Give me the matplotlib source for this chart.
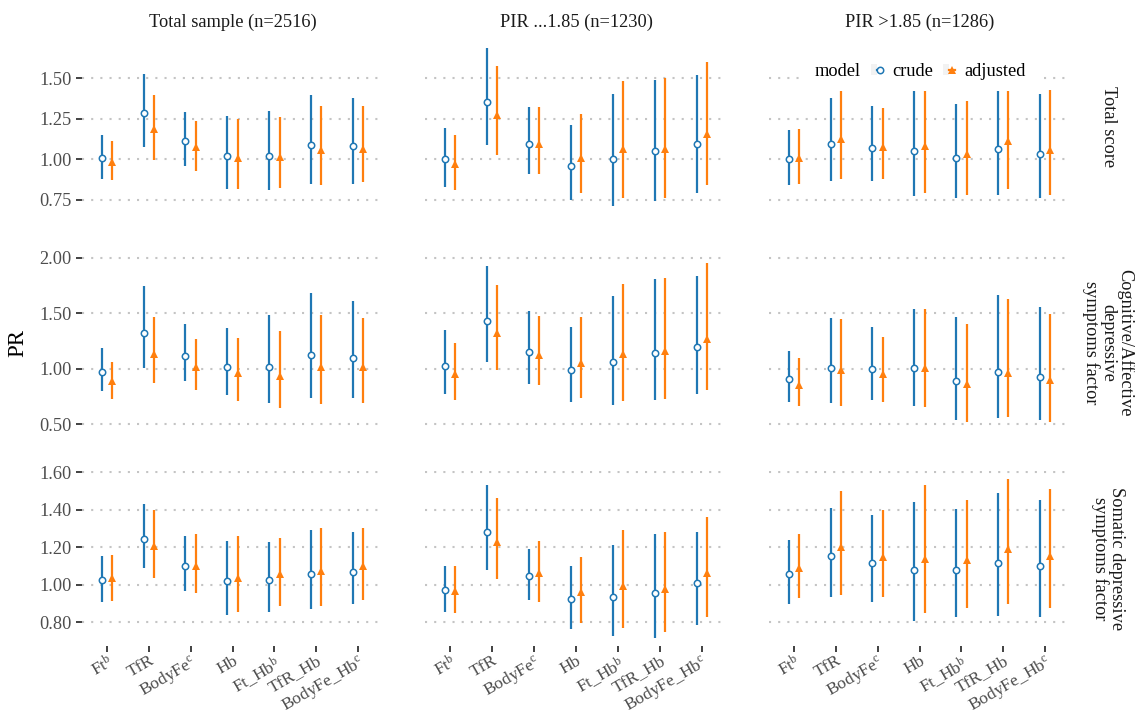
import matplotlib.pyplot as plt
from matplotlib.lines import Line2D
from matplotlib.patches import Patch, Rectangle
from matplotlib.legend_handler import HandlerTuple

# ---- data ----
markers = [r"Ft$^{\mathrm{b}}$", "TfR", r"BodyFe$^{\mathrm{c}}$", "Hb",
           r"Ft_Hb$^{\mathrm{b}}$", "TfR_Hb", r"BodyFe_Hb$^{\mathrm{c}}$"]
groups = ["Total sample (n=2516)", "PIR ...1.85 (n=1230)", "PIR >1.85 (n=1286)"]
outcomes = ["Total score",
            "Cognitive/Affective\ndepressive\nsymptoms factor",
            "Somatic depressive\nsymptoms factor"]

# each list: one row of 7 values per group (total, PIR low, PIR high)
total_crude_est = [[1.006, 1.284, 1.110, 1.020, 1.020, 1.089, 1.085],
                   [1.000, 1.356, 1.095, 0.957, 1.000, 1.048, 1.097],
                   [1.000, 1.095, 1.072, 1.050, 1.006, 1.062, 1.031]]
total_crude_lo = [[0.876, 1.075, 0.957, 0.816, 0.810, 0.847, 0.847],
                  [0.828, 1.089, 0.907, 0.745, 0.710, 0.739, 0.789],
                  [0.839, 0.863, 0.863, 0.770, 0.758, 0.776, 0.758]]
total_crude_hi = [[1.149, 1.528, 1.290, 1.267, 1.298, 1.398, 1.379],
                  [1.193, 1.689, 1.323, 1.211, 1.404, 1.490, 1.522],
                  [1.180, 1.379, 1.329, 1.480, 1.342, 1.470, 1.404]]
total_adj_est = [[0.980, 1.185, 1.075, 1.010, 1.015, 1.056, 1.066],
                 [0.969, 1.275, 1.097, 1.010, 1.064, 1.066, 1.159],
                 [1.010, 1.128, 1.077, 1.085, 1.031, 1.110, 1.056]]
total_adj_lo = [[0.870, 0.995, 0.925, 0.816, 0.822, 0.840, 0.859],
                [0.807, 1.027, 0.907, 0.789, 0.758, 0.758, 0.839],
                [0.845, 0.878, 0.878, 0.789, 0.776, 0.814, 0.776]]
total_adj_hi = [[1.110, 1.400, 1.236, 1.248, 1.260, 1.330, 1.330],
                [1.149, 1.578, 1.323, 1.280, 1.484, 1.503, 1.602],
                [1.186, 1.450, 1.317, 1.500, 1.360, 1.520, 1.430]]

cog_crude_est = [[0.973, 1.324, 1.117, 1.018, 1.012, 1.120, 1.096],
                 [1.021, 1.434, 1.148, 0.985, 1.060, 1.145, 1.193],
                 [0.904, 1.006, 1.000, 1.009, 0.889, 0.973, 0.922]]
cog_crude_lo = [[0.802, 1.009, 0.892, 0.766, 0.691, 0.739, 0.739],
                [0.774, 1.063, 0.864, 0.702, 0.675, 0.720, 0.774],
                [0.702, 0.693, 0.720, 0.667, 0.538, 0.559, 0.538]]
cog_crude_hi = [[1.186, 1.745, 1.402, 1.366, 1.483, 1.682, 1.610],
                [1.352, 1.922, 1.524, 1.380, 1.660, 1.813, 1.840],
                [1.163, 1.461, 1.380, 1.539, 1.470, 1.669, 1.560]]
cog_adj_est = [[0.886, 1.132, 1.015, 0.958, 0.937, 1.012, 1.012],
               [0.952, 1.322, 1.127, 1.051, 1.136, 1.160, 1.265],
               [0.855, 0.985, 0.952, 1.006, 0.862, 0.964, 0.898]]
cog_adj_lo = [[0.730, 0.874, 0.808, 0.712, 0.649, 0.685, 0.694],
              [0.720, 0.985, 0.855, 0.738, 0.711, 0.729, 0.810],
              [0.669, 0.669, 0.702, 0.658, 0.520, 0.568, 0.520]]
cog_adj_hi = [[1.060, 1.465, 1.267, 1.276, 1.342, 1.483, 1.456],
              [1.235, 1.759, 1.479, 1.470, 1.768, 1.822, 1.949],
              [1.100, 1.452, 1.289, 1.539, 1.407, 1.633, 1.497]]

som_crude_est = [[1.025, 1.245, 1.101, 1.018, 1.027, 1.059, 1.069],
                 [0.972, 1.282, 1.046, 0.924, 0.936, 0.957, 1.007],
                 [1.059, 1.151, 1.117, 1.076, 1.080, 1.115, 1.099]]
som_crude_lo = [[0.908, 1.091, 0.966, 0.840, 0.854, 0.870, 0.897],
                [0.854, 1.078, 0.918, 0.764, 0.726, 0.716, 0.785],
                [0.897, 0.934, 0.908, 0.806, 0.828, 0.833, 0.828]]
som_crude_hi = [[1.153, 1.430, 1.259, 1.233, 1.227, 1.291, 1.279],
                [1.099, 1.531, 1.190, 1.099, 1.211, 1.270, 1.281],
                [1.238, 1.409, 1.371, 1.440, 1.403, 1.488, 1.451]]
som_adj_est = [[1.036, 1.204, 1.101, 1.036, 1.057, 1.073, 1.099],
               [0.966, 1.227, 1.062, 0.961, 0.995, 0.977, 1.062],
               [1.087, 1.199, 1.147, 1.137, 1.131, 1.190, 1.153]]
som_adj_lo = [[0.913, 1.037, 0.956, 0.854, 0.886, 0.886, 0.918],
              [0.849, 1.030, 0.908, 0.796, 0.769, 0.748, 0.828],
              [0.929, 0.945, 0.934, 0.849, 0.876, 0.897, 0.876]]
som_adj_hi = [[1.158, 1.398, 1.270, 1.259, 1.249, 1.302, 1.302],
              [1.099, 1.462, 1.233, 1.147, 1.291, 1.281, 1.361],
              [1.270, 1.499, 1.398, 1.531, 1.451, 1.563, 1.510]]

y_ticks = [[0.75, 1.00, 1.25, 1.50],
           [0.50, 1.00, 1.50, 2.00],
           [0.80, 1.00, 1.20, 1.40, 1.60]]

# ---- style ----
plt.rcParams["font.family"] = ["Liberation Serif", "DejaVu Serif"]
plt.rcParams["mathtext.fontset"] = "custom"
plt.rcParams["mathtext.rm"] = "Liberation Serif"
plt.rcParams["mathtext.it"] = "Liberation Serif:italic"

BLUE = "#1F77B4"
ORANGE = "#FF7F0E"
W, H = 1135, 710
FS = 13.2

rows = [
    (total_crude_est, total_crude_lo, total_crude_hi, total_adj_est, total_adj_lo, total_adj_hi),
    (cog_crude_est, cog_crude_lo, cog_crude_hi, cog_adj_est, cog_adj_lo, cog_adj_hi),
    (som_crude_est, som_crude_lo, som_crude_hi, som_adj_est, som_adj_lo, som_adj_hi),
]

# panel boxes in pixels
cols_x = [(82, 383), (425, 727), (769, 1070)]
rows_y = [(40, 214), (255.5, 430), (471, 646)]

fig = plt.figure(figsize=(W / 100, H / 100), dpi=100)
x = list(range(len(markers)))
dodge = 0.127

for r, (c_est, c_lo, c_hi, a_est, a_lo, a_hi) in enumerate(rows):
    lo_all = min(min(v) for v in c_lo + a_lo)
    hi_all = max(max(v) for v in c_hi + a_hi)
    pad = 0.05 * (hi_all - lo_all)
    y0, y1 = rows_y[r]
    for g in range(3):
        x0, x1 = cols_x[g]
        ax = fig.add_axes([x0 / W, 1 - y1 / H, (x1 - x0) / W, (y1 - y0) / H])
        xc = [v - dodge for v in x]
        xa = [v + dodge for v in x]
        ax.vlines(xc, c_lo[g], c_hi[g], color=BLUE, lw=1.6, zorder=3)
        ax.plot(xc, c_est[g], ls="none", marker="o", ms=4.6, mfc="white",
                mec=BLUE, mew=1.1, zorder=4)
        ax.vlines(xa, a_lo[g], a_hi[g], color=ORANGE, lw=1.6, zorder=3)
        ax.plot(xa, a_est[g], ls="none", marker="^", ms=6.2, color=ORANGE,
                mew=0, zorder=4)

        ax.set_xlim(-0.6, len(markers) - 0.4)
        ax.set_ylim(lo_all - pad, hi_all + pad)
        ax.set_yticks(y_ticks[r])
        ax.set_xticks(x)
        ax.grid(axis="y", color="#C4C4C4", lw=1.5, ls=(0, (1, 3.4)))
        ax.set_axisbelow(True)
        for s in ax.spines.values():
            s.set_visible(False)
        ax.tick_params(length=4, width=1.3, color="#333333",
                       labelsize=FS, labelcolor="#4D4D4D", pad=3.5)
        if g == 0:
            ax.set_yticklabels([f"{t:.2f}" for t in y_ticks[r]])
        else:
            ax.tick_params(axis="y", left=False, labelleft=False)
        if r == 2:
            ax.set_xticklabels(markers, rotation=30, ha="right", va="top",
                               rotation_mode="anchor", fontsize=12.6)
            ax.tick_params(axis="x", pad=0.8)
        else:
            ax.tick_params(axis="x", bottom=False, labelbottom=False)

        if r == 0:
            fig.text((x0 + x1) / 2 / W, 1 - 22 / H, groups[g], ha="center",
                     va="center", fontsize=FS, color="#1A1A1A")
    fig.text(1108 / W, 1 - (y0 + y1) / 2 / H, outcomes[r], rotation=-90,
             ha="center", va="center", multialignment="center",
             fontsize=FS, color="#1A1A1A", linespacing=0.95)

fig.text(18 / W, 1 - 343 / H, "PR", rotation=90, ha="center", va="center",
         fontsize=16.5, color="black")

# legend (white box drawn over the top right panel, as in the reference)
fig.patches.append(Rectangle((800 / W, 1 - 91 / H), 242 / W, 41 / H,
                             transform=fig.transFigure, facecolor="white",
                             edgecolor="none", zorder=4))
fig.text(815 / W, 1 - 71.5 / H, "model", ha="left", va="center",
         fontsize=FS, zorder=6)
key_bg = "#F2F2F2"
handles = [
    (Patch(facecolor=key_bg, edgecolor="none"),
     Line2D([], [], color=BLUE, lw=1.6, marker="o", ms=4.6, mfc="white",
            mec=BLUE, mew=1.1)),
    (Patch(facecolor=key_bg, edgecolor="none"),
     Line2D([], [], color=ORANGE, lw=1.6, marker="^", ms=6.2, mew=0)),
]
leg = fig.legend(handles, ["crude", "adjusted"], ncol=2, frameon=False,
                 loc="center left", bbox_to_anchor=(871 / W, 1 - 71.5 / H),
                 borderpad=0, borderaxespad=0, fontsize=FS, numpoints=1,
                 handlelength=0.62, handleheight=0.62, handletextpad=0.55,
                 columnspacing=0.55,
                 handler_map={tuple: HandlerTuple(ndivide=None, pad=0)})
leg.set_zorder(6)

fig.savefig("out.png", dpi=100)
